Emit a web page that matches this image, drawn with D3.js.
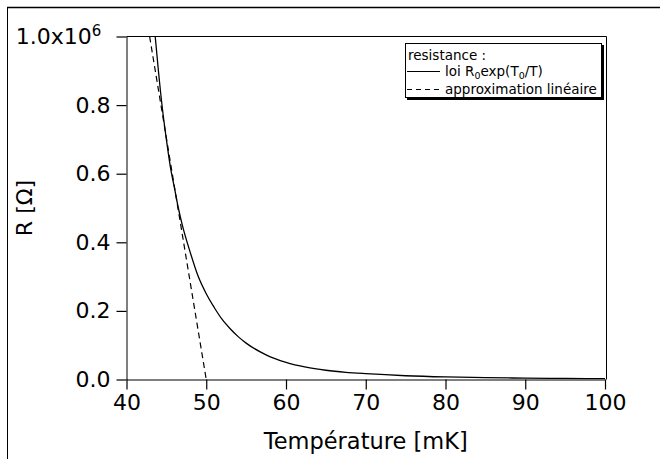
<!DOCTYPE html>
<html>
<head>
<meta charset="utf-8">
<script src="https://cdn.jsdelivr.net/npm/d3@7"></script>
<style>
  html, body { margin: 0; padding: 0; background: #fff; }
  svg { display: block; }
  text { font-family: "DejaVu Sans", sans-serif; fill: #000; }
</style>
</head>
<body>
<svg id="chart" width="660" height="459"></svg>
<script>
// ---- data ----
const temperatureMK = [43.6, 44.0, 44.5, 45.0, 45.5, 46.0, 46.5, 47.0, 48.0, 49.0, 50.0, 51.0, 52.0, 53.0, 54.0, 55.0, 57.5, 60.0, 62.5, 65.0, 67.5, 70.0, 75.0, 80.0, 85.0, 90.0, 95.0, 100.0];
const resistanceOhm = [1.0e6, 0.90e6, 0.79e6, 0.70e6, 0.62e6, 0.56e6, 0.50e6, 0.45e6, 0.37e6, 0.30e6, 0.25e6, 0.21e6, 0.175e6, 0.148e6, 0.125e6, 0.106e6, 0.072e6, 0.050e6, 0.036e6, 0.027e6, 0.021e6, 0.017e6, 0.011e6, 0.0075e6, 0.0055e6, 0.004e6, 0.003e6, 0.0025e6];
const linearTemperatureMK = [42.9, 50.0];
const linearResistanceOhm = [1.0e6, 0.0];
const xTickValues = [40, 50, 60, 70, 80, 90, 100];
const yTickValues = [0, 0.2e6, 0.4e6, 0.6e6, 0.8e6, 1.0e6];
const yTickLabels = ["0.0", "0.2", "0.4", "0.6", "0.8", "1.0x10"];
const xTitle = "Température [mK]";
const yTitle = "R [Ω]";
const legendTitle = "resistance :";
const legendLinear = "approximation linéaire";

(function () {
const svg = d3.select("#chart");
svg.append("rect").attr("width", 660).attr("height", 459).attr("fill", "#fff");

// outer frame (top and left edges visible)
svg.append("line").attr("x1", 7).attr("x2", 660).attr("y1", 7.5).attr("y2", 7.5).attr("stroke", "#000").attr("stroke-width", 1.5);
svg.append("line").attr("x1", 7.5).attr("x2", 7.5).attr("y1", 7).attr("y2", 459).attr("stroke", "#000").attr("stroke-width", 1);

const pLeft = 126.5, pRight = 605, pTop = 36.5, pBottom = 379.5;
const x = d3.scaleLinear().domain([40, 100]).range([pLeft, pRight]);
const y = d3.scaleLinear().domain([0, 1e6]).range([pBottom, pTop]);

// plot frame (top and right)
svg.append("path")
  .attr("d", `M${pLeft},${pTop}H${pRight + 1.5}V${pBottom}`)
  .attr("fill", "none").attr("stroke", "#000").attr("stroke-width", 1);

// axes
const xAxis = d3.axisBottom(x).tickValues(xTickValues).tickSizeInner(10).tickSizeOuter(0).tickPadding(5);
const gx = svg.append("g").attr("transform", `translate(0,${pBottom})`).call(xAxis);
gx.select(".domain").attr("stroke", "#000").attr("stroke-width", 1.2);
gx.selectAll(".tick line").attr("stroke", "#000").attr("stroke-width", 1.2);
gx.selectAll("text").attr("font-size", 22).attr("font-family", "DejaVu Sans").attr("fill", "#000");

const yAxis = d3.axisLeft(y).tickValues(yTickValues).tickSizeInner(10).tickSizeOuter(0).tickPadding(6)
  .tickFormat((d, i) => yTickLabels[i]);
const gy = svg.append("g").attr("transform", `translate(${pLeft},0)`).call(yAxis);
gy.select(".domain").attr("stroke", "#000").attr("stroke-width", 1);
gy.selectAll(".tick line").attr("stroke", "#000").attr("stroke-width", 1.2);
gy.selectAll("text").attr("font-size", 22).attr("font-family", "DejaVu Sans").attr("fill", "#000");
gy.selectAll(".tick text").filter((d, i) => i === yTickValues.length - 1)
  .attr("dx", "-0.42em")
  .append("tspan").attr("font-size", 15).attr("dy", "-0.55em").text("6");

// clip
svg.append("clipPath").attr("id", "plotclip").append("rect")
  .attr("x", pLeft).attr("y", pTop).attr("width", pRight - pLeft + 1).attr("height", pBottom - pTop);

const line = d3.line().x(d => x(d[0])).y(d => y(d[1])).curve(d3.curveMonotoneX);
const mainData = temperatureMK.map((t, i) => [t, resistanceOhm[i]]);
const linData = linearTemperatureMK.map((t, i) => [t, linearResistanceOhm[i]]);

svg.append("path").datum(linData).attr("clip-path", "url(#plotclip)")
  .attr("d", d3.line().x(d => x(d[0])).y(d => y(d[1])))
  .attr("fill", "none").attr("stroke", "#000").attr("stroke-width", 1.2).attr("stroke-dasharray", "6,4");
svg.append("path").datum(mainData).attr("clip-path", "url(#plotclip)")
  .attr("d", line)
  .attr("fill", "none").attr("stroke", "#000").attr("stroke-width", 1.3);

// axis titles
svg.append("text").attr("x", (pLeft + pRight) / 2).attr("y", 449).attr("text-anchor", "middle")
  .attr("font-size", 22.5).text(xTitle);
svg.append("text").attr("transform", `translate(32,${(pTop + pBottom) / 2}) rotate(-90)`)
  .attr("text-anchor", "middle").attr("font-size", 22).text(yTitle);

// legend
const lg = svg.append("g");
lg.append("rect").attr("x", 407).attr("y", 45).attr("width", 197).attr("height", 55).attr("fill", "#000");
lg.append("rect").attr("x", 405.5).attr("y", 43.5).attr("width", 196).attr("height", 54)
  .attr("fill", "#fff").attr("stroke", "#000").attr("stroke-width", 1);
lg.append("text").attr("x", 408).attr("y", 60).attr("font-size", 13.5).text(legendTitle);
lg.append("line").attr("x1", 407).attr("x2", 440).attr("y1", 71.5).attr("y2", 71.5).attr("stroke", "#000").attr("stroke-width", 1.2);
const t2 = lg.append("text").attr("x", 445).attr("y", 76).attr("font-size", 13.5);
t2.append("tspan").text("loi R");
t2.append("tspan").attr("font-size", 9.5).attr("dy", 3).text("0");
t2.append("tspan").attr("dy", -3).text("exp(T");
t2.append("tspan").attr("font-size", 9.5).attr("dy", 3).text("0");
t2.append("tspan").attr("dy", -3).text("/T)");
lg.append("line").attr("x1", 407).attr("x2", 440).attr("y1", 89.5).attr("y2", 89.5).attr("stroke", "#000").attr("stroke-width", 1.2).attr("stroke-dasharray", "5,4");
lg.append("text").attr("x", 445).attr("y", 94).attr("font-size", 13.5).text(legendLinear);
})();
</script>
</body>
</html>
